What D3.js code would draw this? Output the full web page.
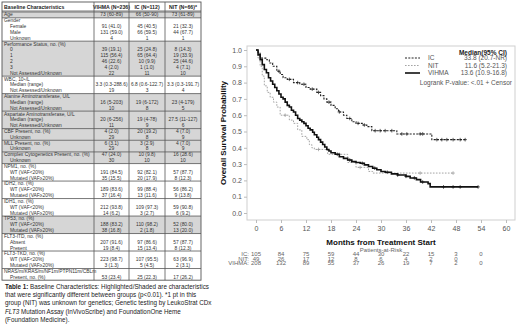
<!DOCTYPE html>
<html>
<head>
<meta charset="utf-8">
<script src="https://cdn.jsdelivr.net/npm/d3@7"></script>
<style>
  body { margin: 0; background: #fff; }
  svg text { font-family: Arial, "Liberation Sans", sans-serif; }
</style>
</head>
<body>
<svg id="chart" width="520" height="327"></svg>
<script>
// ---- table data ----
const tableHeader = ["Baseline Characteristics", "VIHMA (N=236)", "IC (N=112)", "NIT (N=66)*"];

const ageRows = [["Age", "73 (60-89)", "66 (50-90)", "73 (61-89)"]];
const genderRows = [["Gender", "", "", ""], ["Female", "91 (41.0)", "45 (40.5)", "21 (32.3)"],
  ["Male", "131 (59.0)", "66 (59.5)", "44 (67.7)"], ["Unknown", "4", "1", "1"]];
const perfRows = [["Performance Status, no. (%)", "", "", ""], ["0", "39 (19.1)", "25 (24.8)", "8 (14.3)"],
  ["1", "115 (56.4)", "65 (64.4)", "19 (33.9)"], ["2", "46 (22.6)", "10 (9.9)", "25 (44.6)"],
  ["3", "4 (2.0)", "1 (1.0)", "4 (7.1)"], ["Not Assessed/Unknown", "22", "11", "10"]];
const wbcRows = [["WBC, 10⁹/L", "", "", ""], ["Median (range)", "3.3 (0.3-288.6)", "6.8 (0.6-122.7)", "3.3 (0.3-191.7)"],
  ["Not Assessed/Unknown", "19", "3", "4"]];
const altRows = [["Alanine Aminotransferase, U/L", "", "", ""], ["Median (range)", "16 (5-203)", "19 (6-172)", "23 (4-179)"],
  ["Not Assessed/Unknown", "10", "8", "5"]];
const astRows = [["Aspartate Aminotransferase, U/L", "", "", ""], ["Median (range)", "20 (6-256)", "19 (4-78)", "27.5 (11-127)"],
  ["Not Assessed/Unknown", "11", "9", "6"]];
const cbfRows = [["CBF Present, no. (%)", "4 (2.0)", "20 (19.2)", "4 (7.0)"], ["Unknown", "29", "8", "9"]];
const mllRows = [["MLL Present, no. (%)", "6 (3.1)", "3 (2.9)", "4 (7.0)"], ["Unknown", "29", "8", "9"]];
const complexRows = [["Complex Cytogenetics Present, no. (%)", "47 (24.0)", "10 (9.8)", "16 (28.6)"], ["Unknown", "30", "10", "10"]];
const npm1Rows = [["NPM1, no. (%)", "", "", ""], ["WT (VAF<20%)", "191 (84.5)", "92 (82.1)", "57 (87.7)"],
  ["Mutated (VAF≥20%)", "35 (15.5)", "20 (17.9)", "8 (12.3)"]];
const idh2Rows = [["IDH2, no. (%)", "", "", ""], ["WT (VAF<20%)", "189 (83.6)", "99 (88.4)", "56 (86.2)"],
  ["Mutated (VAF≥20%)", "37 (16.4)", "13 (11.6)", "9 (13.8)"]];
const idh1Rows = [["IDH1, no. (%)", "", "", ""], ["WT (VAF<20%)", "212 (93.8)", "109 (97.3)", "59 (90.8)"],
  ["Mutated (VAF≥20%)", "14 (6.2)", "3 (2.7)", "6 (9.2)"]];
const tp53Rows = [["TP53, no. (%)", "", "", ""], ["WT (VAF<20%)", "188 (83.2)", "110 (98.2)", "52 (80.0)"],
  ["Mutated (VAF≥20%)", "38 (16.8)", "2 (1.8)", "13 (20.0)"]];
const itdRows = [["FLT3-ITD, no. (%)", "", "", ""], ["Absent", "207 (91.6)", "97 (86.6)", "57 (87.7)"],
  ["Present", "19 (8.4)", "15 (13.4)", "8 (12.3)"]];
const tkdRows = [["FLT3-TKD, no. (%)", "", "", ""], ["WT (VAF<20%)", "223 (98.7)", "107 (95.5)", "63 (96.9)"],
  ["Mutated (VAF≥20%)", "3 (1.3)", "5 (4.5)", "2 (3.1)"]];
const rasRows = [["NRAS/m/KRAS/m/NF1m/PTPN11m/CBLm", "", "", ""], ["Present, no. (%)", "53 (23.4)", "25 (22.3)", "17 (26.2)"]];

const tableGroups = [ageRows, genderRows, perfRows, wbcRows, altRows, astRows, cbfRows, mllRows,
  complexRows, npm1Rows, idh2Rows, idh1Rows, tp53Rows, itdRows, tkdRows, rasRows];
// significant (shaded) groups
const shadedGroups = [ageRows, perfRows, altRows, astRows, cbfRows, mllRows, complexRows, tp53Rows];

const captionLines = [
  [["Table 1:", "b"], [" Baseline Characteristics: Highlighted/Shaded are characteristics", ""]],
  [["that were significantly different between groups (p<0.01). *1 pt in this", ""]],
  [["group (NIT) was unknown for genetics; Genetic testing by LeukoStrat CDx", ""]],
  [["FLT3", "i"], [" Mutation Assay (InVivoScribe) and FoundationOne Heme", ""]],
  [["(Foundation Medicine).", ""]]
];

// ---- survival data: [month, probability] ----
const vihma = [[0,1],[0.5,0.97],[1,0.94],[1.5,0.91],[2,0.88],[2.5,0.86],[3,0.83],[3.5,0.81],[4,0.79],
  [4.5,0.77],[5,0.75],[5.5,0.73],[6,0.71],[6.5,0.7],[7,0.68],[7.5,0.66],[8,0.65],[8.5,0.63],[9,0.62],
  [9.5,0.6],[10,0.58],[10.5,0.57],[11,0.56],[11.5,0.55],[12,0.535],[12.5,0.52],[13,0.51],[13.6,0.495],
  [14,0.48],[14.6,0.465],[15,0.45],[15.5,0.435],[16,0.42],[16.5,0.405],[17,0.39],[17.5,0.38],[18,0.37],
  [19,0.36],[20,0.345],[21,0.335],[22,0.325],[23,0.315],[24,0.31],[25,0.305],[26,0.295],[27,0.285],
  [28,0.275],[29,0.265],[30,0.255],[31,0.25],[32.5,0.24],[34,0.233],[36,0.225],[37,0.215],[38.5,0.205],
  [39.5,0.19],[41.3,0.18],[41.8,0.16],[53.3,0.16]];
const ic = [[0,1],[0.5,0.98],[1,0.95],[2.6,0.94],[3.2,0.92],[4,0.9],[5,0.87],[5.8,0.85],[6.5,0.83],
  [7.5,0.82],[9,0.8],[10.5,0.79],[12,0.77],[13,0.76],[14.6,0.74],[15.5,0.72],[16.3,0.7],[17,0.68],
  [18,0.66],[19,0.64],[19.8,0.62],[21,0.6],[21.8,0.58],[23,0.56],[24,0.55],[25.5,0.54],[26.6,0.53],
  [27.8,0.505],[33.8,0.485],[42.2,0.45],[50.2,0.45]];
const nit = [[0,1],[0.5,0.95],[1,0.9],[1.5,0.84],[2,0.78],[2.7,0.74],[3.4,0.71],[4.2,0.68],[5,0.65],
  [5.8,0.6],[8,0.57],[9,0.55],[10,0.51],[11,0.47],[12.2,0.45],[12.8,0.42],[13.4,0.4],[14,0.39],
  [17.2,0.36],[22,0.31],[24,0.28],[27,0.255],[28,0.245],[47.3,0.245]];

const icCensor = [5.5, 8, 10, 11.5, 13.5, 15, 17.5, 20, 22.5, 24.5, 26, 28.6, 29.8, 31, 32.6, 35, 36.2,
  39.4, 40, 43.4, 44.6, 45.8, 47.3, 49, 50.2];
const nitCensor = [7, 15, 20, 25, 39.4, 47.3];
const vihmaCensor = [19.5, 22.5, 25.5, 28.5, 31.5, 34, 36, 38, 40, 45, 47.3, 49, 53.3];

const legendNames = ["IC", "NIT", "VIHMA"];
const legendMedians = ["33.8 (20.7-NR)", "11.6 (5.2-21.3)", "13.6 (10.9-16.8)"];

const xTicks = [0, 6, 12, 18, 24, 30, 36, 42, 48, 54, 60];
const yTicks = [0, 0.1, 0.2, 0.3, 0.4, 0.5, 0.6, 0.7, 0.8, 0.9, 1.0];
const riskTimes = [0, 6, 12, 18, 24, 30, 36, 42, 48, 54];
const riskIC = [105, 84, 75, 59, 44, 30, 22, 15, 3, 0];
const riskNIT = [49, 26, 17, 12, 8, 6, 4, 2, 0];
const riskVIHMA = [208, 132, 89, 55, 37, 26, 19, 7, 2, 0];

const svg = d3.select("#chart");
svg.append("rect").attr("width", 520).attr("height", 327).attr("fill", "#fff");

// ================= table =================
function drawTable() {
  const colX = [2, 94, 129, 165, 201];
  const headTop = 2, bodyTop = 12, lineH = 5.83;
  const g = svg.append("g").attr("class", "table");
  const fs = 4.9;

  let line = 0;
  const blocks = [];
  tableGroups.forEach(rows => {
    blocks.push({ rows, start: line, shaded: shadedGroups.includes(rows) });
    line += rows.length;
  });
  const yLine = i => bodyTop + i * lineH;
  const bottom = yLine(line);

  blocks.forEach(b => {
    if (b.shaded) {
      g.append("rect").attr("x", colX[0]).attr("y", yLine(b.start))
        .attr("width", colX[4] - colX[0]).attr("height", b.rows.length * lineH)
        .attr("fill", "#d6d6d6");
    }
    b.rows.forEach((r, i) => {
      const ty = yLine(b.start + i) + 4.4;
      g.append("text").attr("x", i === 0 ? colX[0] + 2 : colX[0] + 8).attr("y", ty)
        .attr("font-size", fs).attr("fill", "#333").text(r[0]);
      for (let c = 1; c < 4; c++) {
        g.append("text").attr("x", (colX[c] + colX[c + 1]) / 2).attr("y", ty)
          .attr("text-anchor", "middle").attr("font-size", fs).attr("fill", "#333").text(r[c]);
      }
    });
    g.append("line").attr("x1", colX[0]).attr("x2", colX[4])
      .attr("y1", yLine(b.start)).attr("y2", yLine(b.start))
      .attr("stroke", "#555").attr("stroke-width", 0.8);
  });

  // header
  tableHeader.forEach((h, c) => {
    g.append("text")
      .attr("x", c === 0 ? colX[0] + 2 : (colX[c] + colX[c + 1]) / 2)
      .attr("y", headTop + 6.8)
      .attr("text-anchor", c === 0 ? "start" : "middle")
      .attr("font-size", 5.2).attr("font-weight", "bold").attr("fill", "#222").text(h);
  });
  g.append("line").attr("x1", colX[0]).attr("x2", colX[4]).attr("y1", bodyTop - 1).attr("y2", bodyTop - 1)
    .attr("stroke", "#555").attr("stroke-width", 0.8);
  g.append("rect").attr("x", colX[0]).attr("y", headTop).attr("width", colX[4] - colX[0])
    .attr("height", bottom - headTop).attr("fill", "none").attr("stroke", "#555").attr("stroke-width", 0.9);
  colX.slice(1, 4).forEach(cx => {
    g.append("line").attr("x1", cx).attr("x2", cx).attr("y1", headTop).attr("y2", bottom)
      .attr("stroke", "#555").attr("stroke-width", 0.8);
  });

  // caption
  const cap = svg.append("text").attr("font-size", 6.3).attr("fill", "#222");
  captionLines.forEach((parts, i) => {
    parts.forEach((p, j) => {
      const t = cap.append("tspan").text(p[0]);
      if (j === 0) t.attr("x", 5).attr("y", 289 + i * 8.2);
      if (p[1] === "b") t.attr("font-weight", "bold");
      if (p[1] === "i") t.attr("font-style", "italic");
    });
  });
}

// ================= KM chart =================
function drawKM() {
  const x = d3.scaleLinear().domain([0, 60]).range([256, 506]);
  const y = d3.scaleLinear().domain([0, 1]).range([213, 50]);
  const frame = { left: 247, top: 46, right: 515, bottom: 220 };

  svg.append("rect").attr("x", frame.left).attr("y", frame.top)
    .attr("width", frame.right - frame.left).attr("height", frame.bottom - frame.top)
    .attr("fill", "none").attr("stroke", "#cfcfcf").attr("stroke-width", 1);

  const yAxis = svg.append("g").attr("transform", `translate(${frame.left},0)`)
    .call(d3.axisLeft(y).tickValues(yTicks).tickFormat(d3.format(".1f")).tickSize(3).tickPadding(2));
  const xAxis = svg.append("g").attr("transform", `translate(0,${frame.bottom})`)
    .call(d3.axisBottom(x).tickValues(xTicks).tickSize(3).tickPadding(3));
  [yAxis, xAxis].forEach(a => {
    a.select(".domain").remove();
    a.selectAll(".tick line").attr("stroke", "#bbb");
    a.selectAll(".tick text").attr("fill", "#555").attr("font-size", 7)
      .attr("font-family", "Arial, 'Liberation Sans', sans-serif");
  });

  svg.append("text").attr("transform", "translate(226,133) rotate(-90)")
    .attr("text-anchor", "middle").attr("font-size", 8).attr("font-weight", "bold")
    .attr("fill", "#111").text("Overall Survival Probability");
  svg.append("text").attr("x", 381).attr("y", 245).attr("text-anchor", "middle")
    .attr("font-size", 8).attr("font-weight", "bold").attr("fill", "#111")
    .text("Months from Treatment Start");
  svg.append("text").attr("x", 381).attr("y", 251.5).attr("text-anchor", "middle")
    .attr("font-size", 6).attr("fill", "#666").text("Patients-at-Risk");

  const line = d3.line().x(d => x(d[0])).y(d => y(d[1])).curve(d3.curveStepAfter);
  const bis = d3.bisector(d => d[0]).right;
  const styles = {
    NIT: { data: nit, cens: nitCensor, stroke: "#9a9a9a", width: 0.9, dash: "1.6,1.4" },
    IC: { data: ic, cens: icCensor, stroke: "#222", width: 1.1, dash: "2,1.3" },
    VIHMA: { data: vihma, cens: vihmaCensor, stroke: "#111", width: 1.6, dash: null }
  };

  ["NIT", "IC", "VIHMA"].forEach(k => {
    const s = styles[k];
    svg.append("path").datum(s.data).attr("d", line).attr("fill", "none")
      .attr("stroke", s.stroke).attr("stroke-width", s.width)
      .attr("stroke-dasharray", s.dash);
    svg.append("g").selectAll("path").data(s.cens).join("path")
      .attr("d", t => {
        const p = s.data[Math.max(0, bis(s.data, t) - 1)];
        const cx = x(t), cy = y(p[1]);
        return `M${cx - 1.8},${cy}H${cx + 1.8}M${cx},${cy - 1.8}V${cy + 1.8}`;
      })
      .attr("stroke", s.stroke).attr("stroke-width", 0.7);
  });

  // legend
  const lg = svg.append("g");
  lg.append("text").attr("x", 507).attr("y", 54.5).attr("text-anchor", "end")
    .attr("font-size", 6.5).attr("font-weight", "bold").attr("fill", "#222").text("Median(95% CI)");
  legendNames.forEach((n, i) => {
    const s = styles[n];
    const ly = 60 + i * 7.5;
    lg.append("line").attr("x1", 405).attr("x2", 420).attr("y1", ly - 2).attr("y2", ly - 2)
      .attr("stroke", s.stroke).attr("stroke-width", s.width).attr("stroke-dasharray", s.dash);
    lg.append("text").attr("x", 428).attr("y", ly).attr("font-size", 6.5).attr("fill", "#555").text(n);
    lg.append("text").attr("x", 507).attr("y", ly).attr("text-anchor", "end")
      .attr("font-size", 6.5).attr("fill", "#555").text(legendMedians[i]);
  });
  lg.append("text").attr("x", 512).attr("y", 84.5).attr("text-anchor", "end")
    .attr("font-size", 6.5).attr("fill", "#555").text("Logrank P-value: <.01  + Censor");

  // patients at risk
  const riskRows = [["IC:", riskIC], ["NIT:", riskNIT], ["VIHMA:", riskVIHMA]];
  riskRows.forEach((r, i) => {
    const ry = 256 + i * 4.6;
    svg.append("text").attr("x", 249).attr("y", ry).attr("text-anchor", "end")
      .attr("font-size", 6).attr("fill", "#666").text(r[0]);
    r[1].forEach((v, j) => {
      svg.append("text").attr("x", x(riskTimes[j])).attr("y", ry).attr("text-anchor", "middle")
        .attr("font-size", 6).attr("fill", "#666").text(v);
    });
  });
}

drawTable();
drawKM();
</script>
</body>
</html>
